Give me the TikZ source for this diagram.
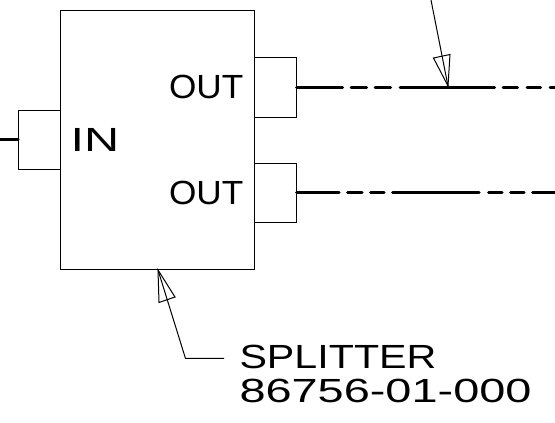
\documentclass[tikz,border=0pt]{standalone}
\usepackage{fontspec}
\setmainfont{Liberation Sans}
\newcommand{\wide}[2]{\scalebox{#1}[1]{#2}}
\tikzset{
  x=1pt,y=1pt,
  thinline/.style={line width=1pt,black},
  boxnode/.style={draw,thinline,fill=white,inner sep=0pt,outer sep=0pt},
  busline/.style={line width=3pt,black,line cap=round},
  lbl/.style={inner sep=0pt,outer sep=0pt,anchor=base west,font=\fontsize{33.5}{34}\selectfont},
  headline/.style={thinline,line join=miter}
}
\begin{document}
\begin{tikzpicture}
\useasboundingbox (0,0) rectangle (555,423);
% ports (behind the main box)
\node[boxnode,minimum width=42pt,minimum height=59.5pt] (inport) at (39.2,283.2) {};
\node[boxnode,minimum width=194.7pt,minimum height=259pt] (main) at (157.4,282.5) {};
\node[boxnode,minimum width=42pt,minimum height=59.5pt] (outa) at (275.7,335.7) {};
\node[boxnode,minimum width=42pt,minimum height=59.5pt] (outb) at (275.7,230.2) {};
% free ends
\coordinate (inend) at (0,283.2);
\coordinate (aend) at (555,335.7);
\coordinate (bend) at (555,230.2);
\draw[busline] (inend) -- (inport.west);
\draw[busline,dash pattern=on 46pt off 8.5pt on 15.5pt off 8.5pt on 15.5pt off 9.5pt on 94.5pt off 8.5pt on 14.5pt off 9.5pt on 13.5pt off 9.5pt on 14.5pt off 8.5pt] (outa.east) -- (aend);
\draw[busline,dash pattern=on 42.5pt off 8.5pt on 14.5pt off 8.5pt on 13.5pt off 8.5pt on 86.5pt off 9.5pt on 13.5pt off 8.5pt on 13.5pt off 8.5pt on 40pt off 8pt] (outb.east) -- (bend);
% texts
\node[lbl] (lin) at (70.5,271) {\wide{1.45}{IN}};
\node[lbl] (louta) at (169,324) {\wide{1.05}{OUT}};
\node[lbl] (loutb) at (169,218) {\wide{1.05}{OUT}};
\node[lbl] (lsp) at (239.5,54) {\wide{1.23}{SPLITTER}};
\node[lbl] (lnum) at (239.5,20) {\wide{1.40}{86756-01-000}};
% leader top
\coordinate (ttail) at (431,423);
\coordinate (ttip) at (448,337);
\coordinate (tb1) at (433.5,365);
\coordinate (tb2) at (450,368.5);
\draw[headline] (ttail) -- (ttip);
\draw[headline] (ttip) -- (tb1) -- (tb2) -- cycle;
% leader bottom
\coordinate (stip) at (158,153);
\coordinate (sb1) at (159,120.5);
\coordinate (sb2) at (175,126);
\coordinate (sknee) at (185.5,64.5);
\coordinate (send) at (224,64.5);
\draw[headline] (send) -- (sknee) -- (stip);
\draw[headline] (stip) -- (sb1) -- (sb2) -- cycle;
\end{tikzpicture}
\end{document}
